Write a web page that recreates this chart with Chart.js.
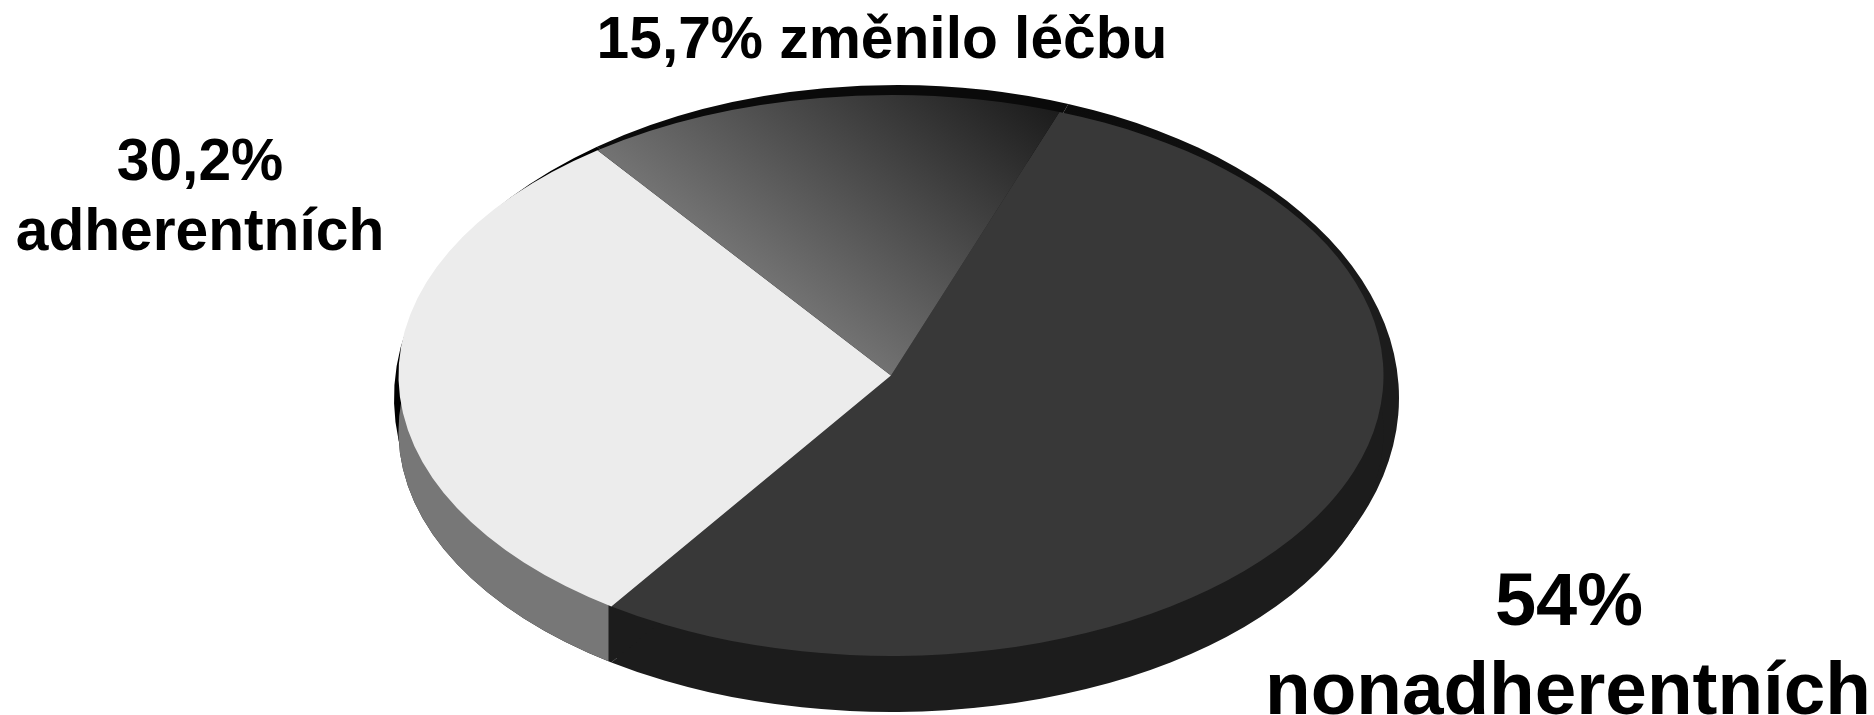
<!DOCTYPE html>
<html><head><meta charset="utf-8">
<style>html,body{margin:0;padding:0;background:#fff;overflow:hidden}canvas{display:block}</style>
<script src="https://cdn.jsdelivr.net/npm/chart.js@4"></script></head>
<body><canvas id="c" width="1874" height="715"></canvas>
<script>
const categories = ["nonadherentních", "adherentních", "změnilo léčbu"];
const values = [54, 30.2, 15.7];
const topColors = ["#383838", "#ececec", null];
const startAngle = 20;
// label text, font size, centre x, baseline y
const labelLines = [
  ["15,7% změnilo léčbu", 58.7, 882, 58],
  ["30,2%", 58.7, 200, 180],
  ["adherentních", 58.7, 200, 250],
  ["54%", 74, 1569, 625],
  ["nonadherentních", 74.7, 1568, 714]
];
const surface = {cx: 891, cy: 375.5, rx: 492.5, ry: 280.5};
const sideDepth = 56;
const backRim = {cx: 896.5, cy: 398, rx: 502.5, ry: 313};
const seamX = 608.5;

function place(ctx, arc, e){
  const k = arc.outerRadius;
  ctx.translate(e.cx, e.cy);
  ctx.scale(e.rx / k, e.ry / k);
  ctx.translate(-arc.x, -arc.y);
}
function toLocal(arc, e, X, Y){
  const k = arc.outerRadius;
  return [arc.x + (X - e.cx) * k / e.rx, arc.y + (Y - e.cy) * k / e.ry];
}
function paint(ctx, arc, color){
  const clone = Object.create(arc);
  Object.defineProperty(clone, 'options', {value: {...arc.options, backgroundColor: color, borderWidth: 0}});
  Chart.ArcElement.prototype.draw.call(clone, ctx);
}
function vGrad(ctx, arc, e, y0, c0, y1, c1){
  const a = toLocal(arc, e, 0, y0), b = toLocal(arc, e, 0, y1);
  const g = ctx.createLinearGradient(0, a[1], 0, b[1]);
  g.addColorStop(0, c0); g.addColorStop(1, c1);
  return g;
}
// Gradient whose iso-colour line on the page runs through p0 and p1, reaching the end colour at p2.
function shadeGrad(ctx, arc, e, p0, p1, p2){
  const a = toLocal(arc, e, p0[0], p0[1]), b = toLocal(arc, e, p1[0], p1[1]), c = toLocal(arc, e, p2[0], p2[1]);
  const ux = b[0] - a[0], uy = b[1] - a[1], len = Math.hypot(ux, uy);
  let nx = -uy / len, ny = ux / len;
  let d = (c[0] - a[0]) * nx + (c[1] - a[1]) * ny;
  return ctx.createLinearGradient(a[0], a[1], a[0] + nx * d, a[1] + ny * d);
}
const pie3d = {
  id: 'pie3d',
  beforeDatasetsDraw(chart){
    const ctx = chart.ctx, arcs = chart.getDatasetMeta(0).data;
    const shifted = {...surface, cy: surface.cy + sideDepth};
    // back rim
    ctx.save(); place(ctx, arcs[0], backRim);
    paint(ctx, arcs[0], vGrad(ctx, arcs[0], backRim, 85, "#0a0a0a", 300, "#1c1c1c"));
    paint(ctx, arcs[1], "#000000");
    paint(ctx, arcs[2], "#0a0a0a");
    ctx.restore();
    // extruded side
    ctx.save(); place(ctx, arcs[0], shifted);
    arcs.forEach(a => paint(ctx, a, "#1c1c1c"));
    ctx.restore();
    ctx.save();
    ctx.beginPath(); ctx.rect(0, 0, seamX, 715); ctx.clip();
    place(ctx, arcs[1], shifted);
    paint(ctx, arcs[1], "#777777");
    ctx.restore();
    // top surface
    ctx.save(); place(ctx, arcs[0], surface);
    const g = shadeGrad(ctx, arcs[0], surface, [889, 375], [601, 148], [1058, 112]);
    g.addColorStop(0, "#727272"); g.addColorStop(1, "#1c1c1c");
    paint(ctx, arcs[0], topColors[0]);
    paint(ctx, arcs[1], topColors[1]);
    paint(ctx, arcs[2], g);
    ctx.restore();
    return false;
  },
  afterDraw(chart){
    const ctx = chart.ctx;
    ctx.save();
    ctx.fillStyle = "#000"; ctx.textAlign = "center"; ctx.textBaseline = "alphabetic";
    labelLines.forEach(([t, s, x, y]) => {
      ctx.font = "bold " + s + "px 'Liberation Sans', Arial, sans-serif";
      ctx.fillText(t, x, y);
    });
    ctx.restore();
  }
};
new Chart(document.getElementById('c'), {
  type: 'pie',
  data: {labels: categories, datasets: [{data: values, backgroundColor: "#383838", borderWidth: 0, clip: false}]},
  options: {
    responsive: false, animation: false, rotation: startAngle,
    layout: {padding: 0},
    plugins: {legend: {display: false}, tooltip: {enabled: false}, title: {display: false}}
  },
  plugins: [pie3d]
});
</script></body></html>
